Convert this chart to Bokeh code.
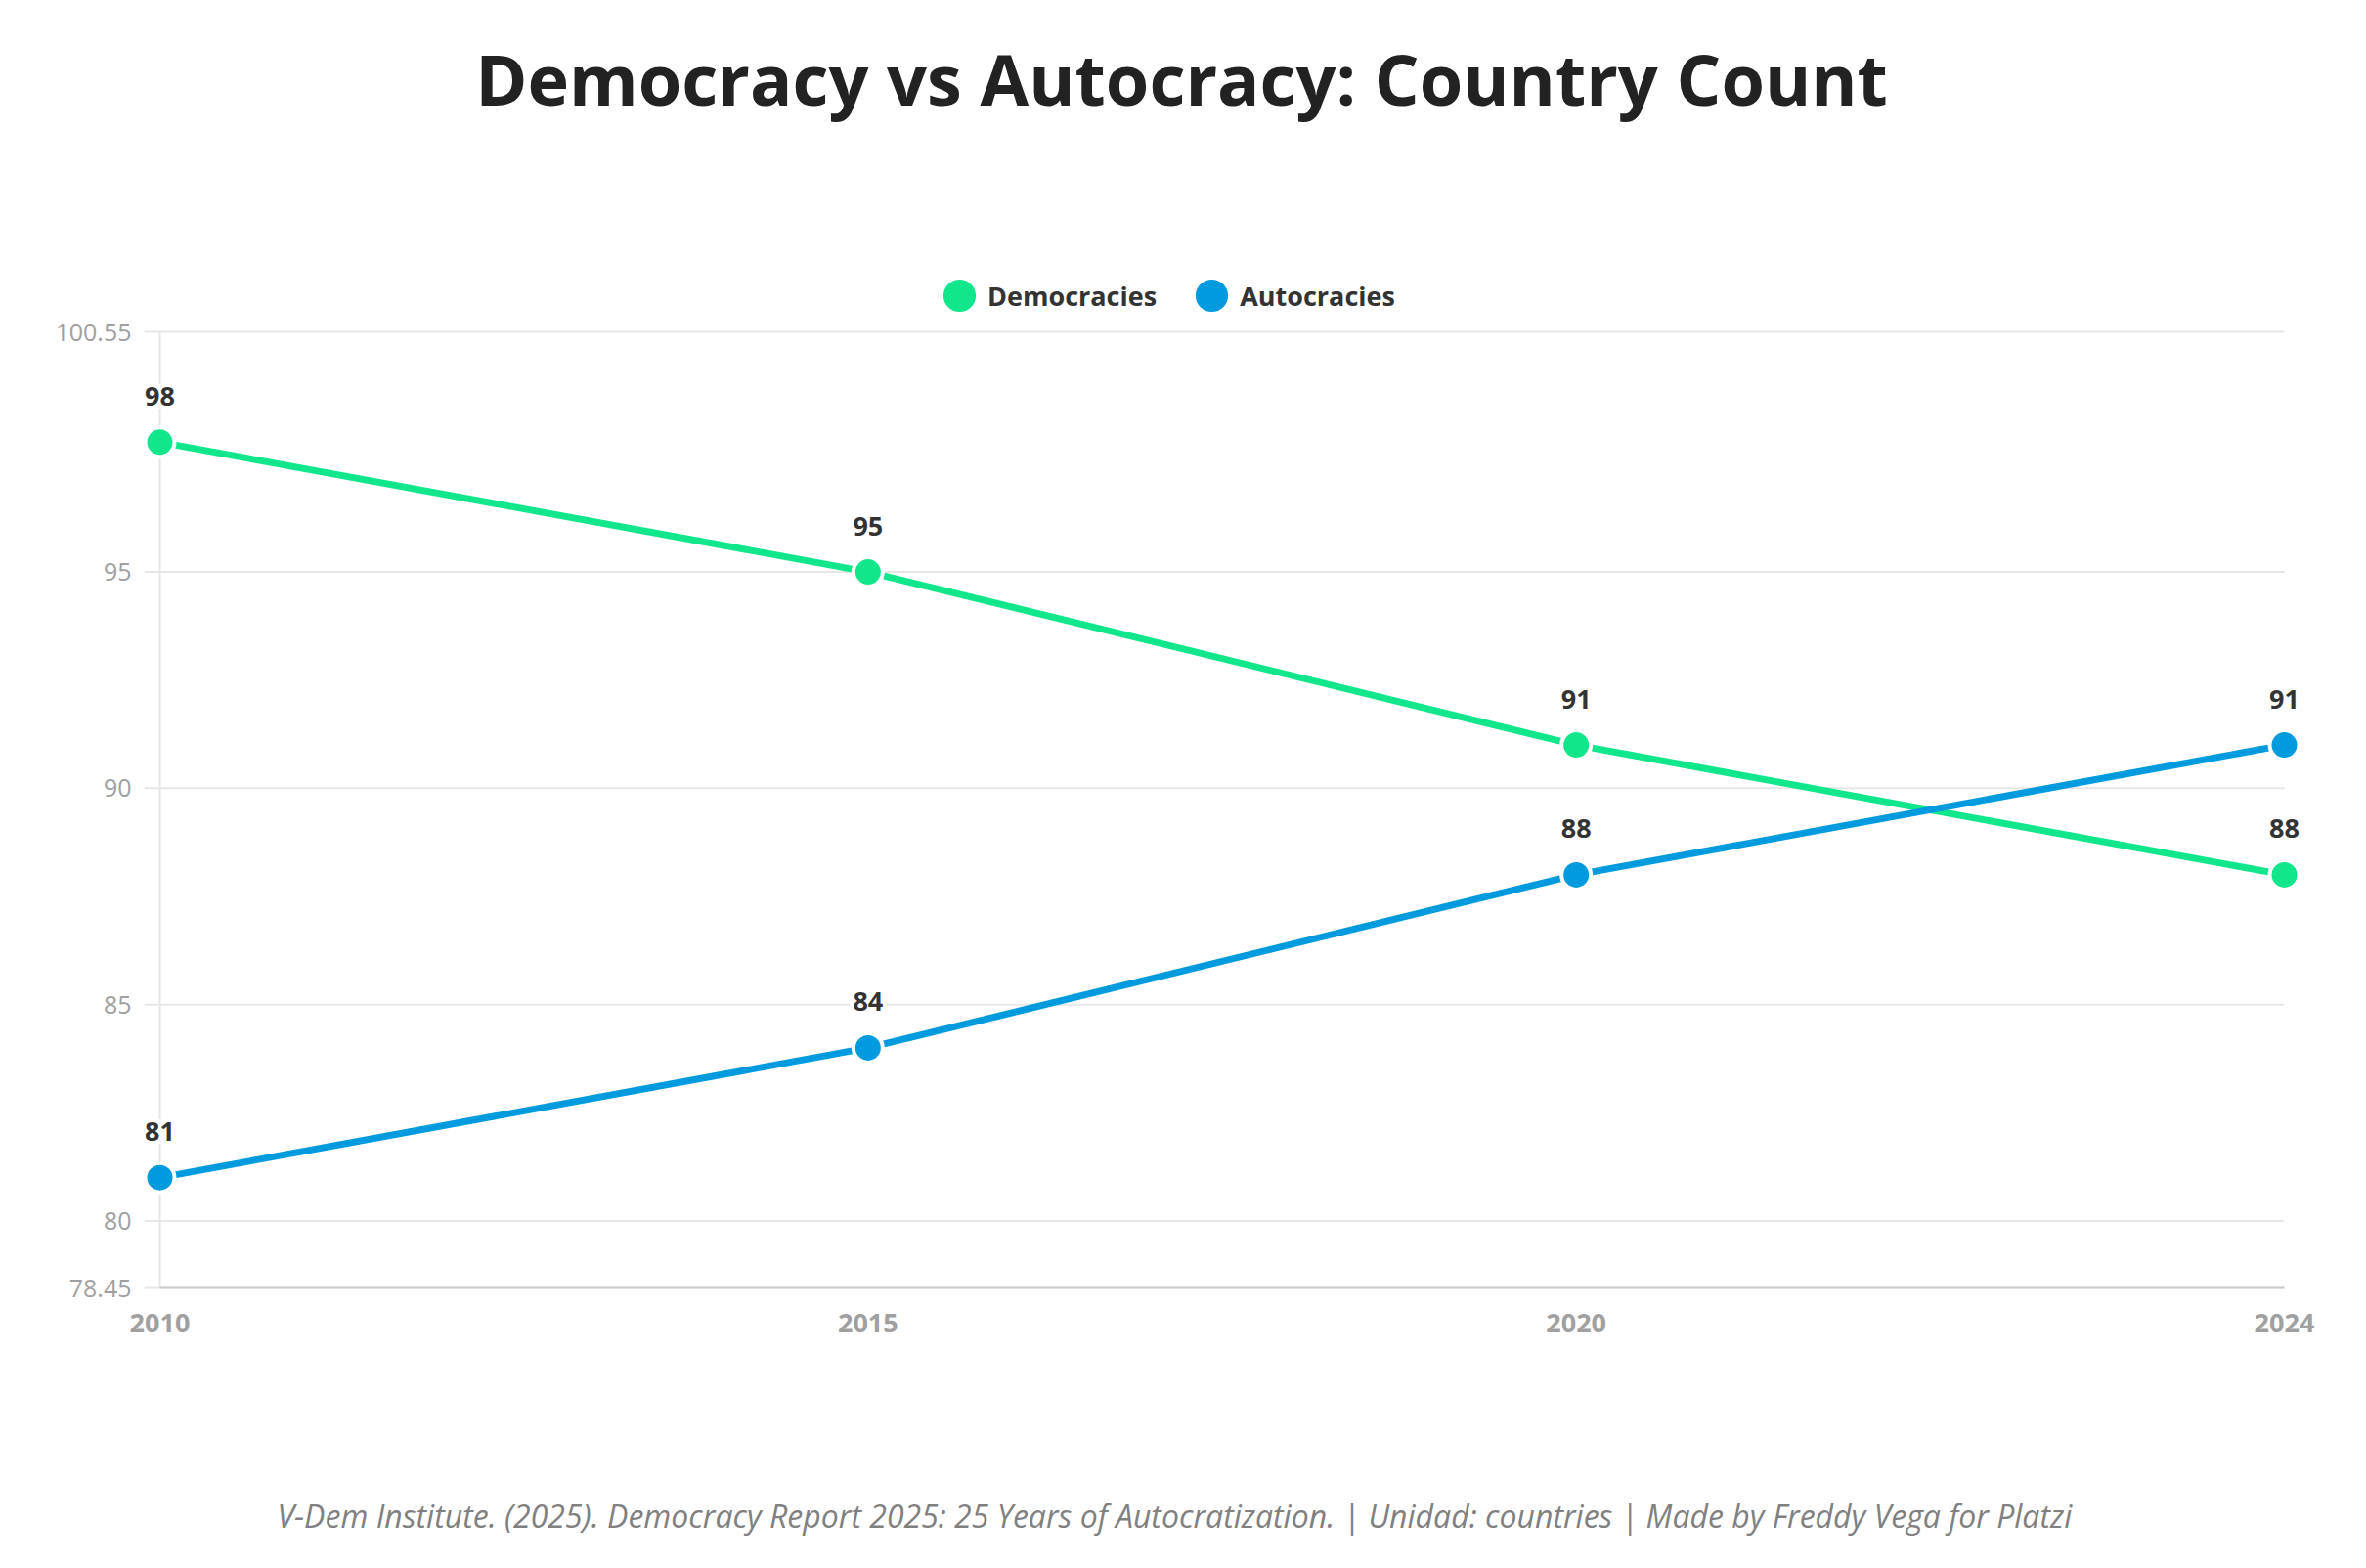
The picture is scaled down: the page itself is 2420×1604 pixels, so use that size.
from bokeh.plotting import figure
from bokeh.models import Range1d, FixedTicker, Label, Legend, LegendItem, Title
from bokeh.core.properties import value
from bokeh.embed import file_html
from bokeh.resources import INLINE

# ---- data ----
years = ["2010", "2015", "2020", "2024"]
democracies = [98, 95, 91, 88]
autocracies = [81, 84, 88, 91]
series_names = ["Democracies", "Autocracies"]
series_colors = ["#12E68B", "#009BDE"]
y_ticks = [78.45, 80, 85, 90, 95, 100.55]
y_tick_labels = ["78.45", "80", "85", "90", "95", "100.55"]
y_min, y_max = 78.45, 100.55
title_text = "Democracy vs Autocracy: Country Count"
footer_text = ("V-Dem Institute. (2025). Democracy Report 2025: 25 Years of Autocratization. "
               "| Unidad: countries | Made by Freddy Vega for Platzi")

FONT = "Open Sans"

# categorical positions (evenly spaced categories)
xpos = list(range(len(years)))

# ---- layout (pixels) ----
W, H = 2404, 1588
axis_left_px, axis_right_px = 163, 2336      # first / last category
axis_top_px, axis_bottom_px = 339, 1317      # y_max / y_min
pad_left, pad_right, pad_bottom = 16, 20, 4
frame_left = axis_left_px - pad_left
frame_right = axis_right_px + pad_right
frame_top = 0
frame_bottom = axis_bottom_px + pad_bottom

ppx = (axis_right_px - axis_left_px) / (xpos[-1] - xpos[0])
ppy = (axis_bottom_px - axis_top_px) / (y_max - y_min)
x_start = xpos[0] - pad_left / ppx
x_end = xpos[-1] + pad_right / ppx
y_start = y_min - pad_bottom / ppy
y_end = y_max + (axis_top_px - frame_top) / ppy

p = figure(width=W, height=H, output_backend="svg", toolbar_location=None,
           title_location=None,
           x_range=Range1d(x_start, x_end), y_range=Range1d(y_start, y_end),
           min_border_left=frame_left, min_border_right=W - frame_right,
           min_border_top=frame_top, min_border_bottom=H - frame_bottom)
p.outline_line_color = None
p.background_fill_color = "white"
p.border_fill_color = "white"
p.xgrid.grid_line_color = None
p.ygrid.grid_line_color = None

# grid lines (with the short outside tick stub on the left)
p.segment(x0=x_start, x1=xpos[-1], y0=y_ticks, y1=y_ticks,
          line_color="#e6e6e6", line_width=2)
# y axis line and x axis line
p.segment(x0=[xpos[0]], x1=[xpos[0]], y0=[y_min], y1=[y_max],
          line_color="#e6e6e6", line_width=2)
p.segment(x0=[xpos[0]], x1=[xpos[-1]], y0=[y_min], y1=[y_min],
          line_color="#cccccc", line_width=2)

# y axis (labels only)
ya = p.yaxis[0]
ya.ticker = FixedTicker(ticks=y_ticks)
ya.major_label_overrides = {t: l for t, l in zip(y_ticks, y_tick_labels)}
ya.major_label_text_font = FONT
ya.major_label_text_font_size = "25px"
ya.major_label_text_color = "#a0a0a0"
ya.major_label_standoff = 7
ya.major_tick_line_color = None
ya.minor_tick_line_color = None
ya.axis_line_color = None

# x axis (labels only)
xa = p.xaxis[0]
xa.ticker = FixedTicker(ticks=xpos)
xa.major_label_overrides = {i: y for i, y in zip(xpos, years)}
xa.major_label_text_font = FONT
xa.major_label_text_font_size = "27px"
xa.major_label_text_font_style = "bold"
xa.major_label_text_color = "#a0a0a0"
xa.major_label_standoff = 16
xa.major_tick_line_color = None
xa.minor_tick_line_color = None
xa.axis_line_color = None

legend_items = []
for name, vals, col in zip(series_names, [democracies, autocracies], series_colors):
    p.line(xpos, vals, line_color=col, line_width=7)
    p.scatter(xpos, vals, size=30, fill_color=col, line_color="white", line_width=4)
    p.text(xpos, vals, text=[str(v) for v in vals], text_font=value(FONT),
           text_font_size="27px", text_font_style="bold", text_color="#333333",
           text_align="center", text_baseline="alphabetic", y_offset=-47,
           background_fill_color="white", padding=3)
    # legend swatch (a single NaN point: drawn only in the legend)
    swatch = p.scatter(x=[float("nan")], y=[float("nan")], fill_color=col,
                       line_color=col, line_width=10)
    legend_items.append(LegendItem(label=name, renderers=[swatch]))

G = 58
legend = Legend(items=legend_items, orientation="horizontal",
                location=(981 - G // 2 - frame_left, frame_bottom - (305 + G // 2) + 3),
                glyph_width=G, glyph_height=G, label_standoff=0, spacing=27,
                padding=0, margin=0, border_line_color=None, background_fill_alpha=0,
                label_text_font=FONT, label_text_font_size="27px",
                label_text_font_style="bold", label_text_color="#333333")
p.add_layout(legend, "center")

title = Label(x=1208 - frame_left, y=frame_bottom - 108 + 29, x_units="screen", y_units="screen",
              text=title_text, text_font=FONT, text_font_size="72px", text_font_style="bold",
              text_color="#222222", text_align="center", text_baseline="alphabetic")
p.add_layout(title)

# spacer between the axis labels and the source line
spacer = Title(text=" ", text_font_size="2px", standoff=157)
p.add_layout(spacer, "below")
footer = Title(text=footer_text, align="left", offset=283 - frame_left,
               standoff=0, text_font=FONT, text_font_size="32px",
               text_font_style="italic", text_color="#808080")
p.add_layout(footer, "below")

open("out.html", "w").write(file_html(p, INLINE))
